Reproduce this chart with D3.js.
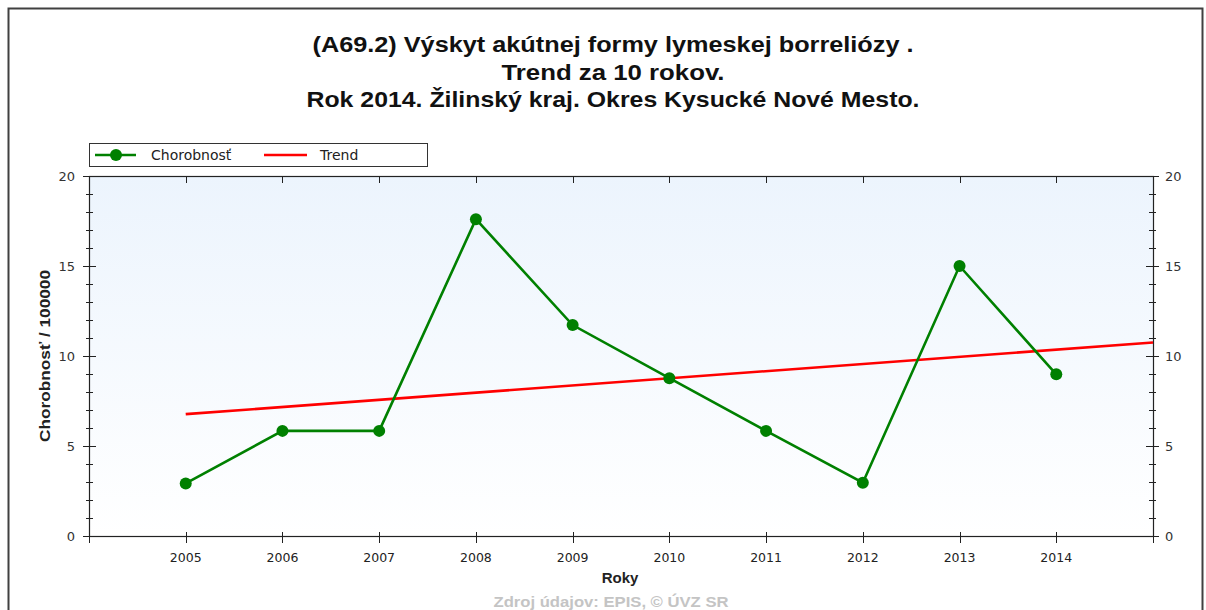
<!DOCTYPE html>
<html>
<head>
<meta charset="utf-8">
<script src="https://cdn.jsdelivr.net/npm/d3@7"></script>
<style>
  html, body { margin: 0; padding: 0; background: #fff; }
  svg { display: block; }
</style>
</head>
<body>
<svg id="chart" width="1206" height="610"></svg>
<script>
// Incidence of acute Lyme borreliosis per 100 000, district Kysucké Nové Mesto
const years = [2005, 2006, 2007, 2008, 2009, 2010, 2011, 2012, 2013, 2014];
const morbidity = [2.92, 5.84, 5.84, 17.6, 11.72, 8.77, 5.84, 2.96, 15.0, 8.98];
// Linear trend line, given by its two end points
const trendYears = [2005, 2015];
const trendValues = [6.77, 10.75];
const yTicks = [0, 5, 10, 15, 20];
const titleLines = [
  "(A69.2) Výskyt akútnej formy lymeskej borreliózy .",
  "Trend za 10 rokov.",
  "Rok 2014. Žilinský kraj. Okres Kysucké Nové Mesto."
];
const titleWidths = [601, 223, 613];

const svg = d3.select("#chart");
const plot = { left: 89, right: 1153, top: 176, bottom: 536 };

const x = d3.scaleLinear().domain([2004, 2015]).range([plot.left, plot.right]);
const y = d3.scaleLinear().domain([0, 20]).range([plot.bottom, plot.top]);

const defs = svg.append("defs");
const grad = defs.append("linearGradient")
  .attr("id", "plotBg").attr("x1", 0).attr("y1", 0).attr("x2", 0).attr("y2", 1);
grad.append("stop").attr("offset", "0%").attr("stop-color", "#ecf4fd");
grad.append("stop").attr("offset", "100%").attr("stop-color", "#ffffff");

// Outer frame
svg.append("rect")
  .attr("x", 8.5).attr("y", 8.5).attr("width", 1194).attr("height", 640)
  .attr("fill", "none").attr("stroke", "#404040").attr("stroke-width", 2);

// Title
svg.append("g").selectAll("text").data(titleLines).join("text")
  .attr("x", 613).attr("y", (d, i) => 52 + i * 27.5)
  .attr("text-anchor", "middle")
  .attr("font-family", "Liberation Sans, Arial, sans-serif")
  .attr("font-size", 22).attr("font-weight", "bold")
  .attr("textLength", (d, i) => titleWidths[i])
  .attr("lengthAdjust", "spacingAndGlyphs")
  .attr("fill", "#111")
  .text(d => d);

// Plot background
svg.append("rect")
  .attr("x", plot.left).attr("y", plot.top)
  .attr("width", plot.right - plot.left).attr("height", plot.bottom - plot.top)
  .attr("fill", "url(#plotBg)");

const axisColor = "#222";
const tickFont = "DejaVu Sans, Verdana, sans-serif";

// Left axis: major ticks cross the line, minor ticks every unit
const minorY = d3.range(0, 21, 1);
const leftG = svg.append("g").attr("transform", `translate(${plot.left},0)`);
leftG.selectAll("line.minor").data(minorY).join("line")
  .attr("x1", -3).attr("x2", 4).attr("y1", d => y(d) + 0.5).attr("y2", d => y(d) + 0.5)
  .attr("stroke", axisColor);
leftG.selectAll("line.major").data(yTicks).join("line")
  .attr("x1", -6).attr("x2", 7).attr("y1", d => y(d) + 0.5).attr("y2", d => y(d) + 0.5)
  .attr("stroke", axisColor);
leftG.selectAll("text").data(yTicks).join("text")
  .attr("x", -14).attr("y", d => y(d)).attr("dy", "0.35em")
  .attr("text-anchor", "end").attr("font-family", tickFont).attr("font-size", 13)
  .attr("fill", "#333").text(d => d);

// Right axis
const rightG = svg.append("g").attr("transform", `translate(${plot.right},0)`);
rightG.selectAll("line.minor").data(minorY).join("line")
  .attr("x1", -4).attr("x2", 3).attr("y1", d => y(d) + 0.5).attr("y2", d => y(d) + 0.5)
  .attr("stroke", axisColor);
rightG.selectAll("line.major").data(yTicks).join("line")
  .attr("x1", -7).attr("x2", 6).attr("y1", d => y(d) + 0.5).attr("y2", d => y(d) + 0.5)
  .attr("stroke", axisColor);
rightG.selectAll("text").data(yTicks).join("text")
  .attr("x", 12).attr("y", d => y(d)).attr("dy", "0.35em")
  .attr("text-anchor", "start").attr("font-family", tickFont).attr("font-size", 13)
  .attr("fill", "#333").text(d => d);

// Bottom axis ticks at each year and at both ends
const xTickYears = [2004].concat(years, [2015]);
const bottomG = svg.append("g");
bottomG.selectAll("line").data(xTickYears).join("line")
  .attr("x1", d => Math.round(x(d)) + 0.5).attr("x2", d => Math.round(x(d)) + 0.5)
  .attr("y1", plot.bottom - 4).attr("y2", plot.bottom + 7)
  .attr("stroke", axisColor);
bottomG.selectAll("text").data(years).join("text")
  .attr("x", d => x(d)).attr("y", 562)
  .attr("text-anchor", "middle").attr("font-family", tickFont).attr("font-size", 12.5)
  .attr("fill", "#222").text(d => d);

// Top edge ticks pointing into the plot
svg.append("g").selectAll("line").data(years).join("line")
  .attr("x1", d => Math.round(x(d)) + 0.5).attr("x2", d => Math.round(x(d)) + 0.5)
  .attr("y1", plot.top).attr("y2", plot.top + 7)
  .attr("stroke", axisColor);

// Plot border lines
svg.append("rect")
  .attr("x", plot.left + 0.5).attr("y", plot.top + 0.5)
  .attr("width", plot.right - plot.left).attr("height", plot.bottom - plot.top)
  .attr("fill", "none").attr("stroke", axisColor).attr("stroke-width", 1.2);

// Axis titles
svg.append("text")
  .attr("transform", `translate(50,${(plot.top + plot.bottom) / 2}) rotate(-90)`)
  .attr("text-anchor", "middle")
  .attr("font-family", "Liberation Sans, Arial, sans-serif")
  .attr("font-size", 15).attr("font-weight", "bold").attr("fill", "#222")
  .attr("textLength", 172).attr("lengthAdjust", "spacingAndGlyphs")
  .text("Chorobnosť / 100000");

svg.append("text")
  .attr("x", 620).attr("y", 583).attr("text-anchor", "middle")
  .attr("font-family", "Liberation Sans, Arial, sans-serif")
  .attr("font-size", 15).attr("font-weight", "bold").attr("fill", "#222")
  .text("Roky");

svg.append("text")
  .attr("x", 611).attr("y", 607).attr("text-anchor", "middle")
  .attr("font-family", "Liberation Sans, Arial, sans-serif")
  .attr("font-size", 15).attr("font-weight", "bold").attr("fill", "#c4c4c4")
  .attr("textLength", 235).attr("lengthAdjust", "spacingAndGlyphs")
  .text("Zdroj údajov: EPIS, © ÚVZ SR");

// Trend line
svg.append("path")
  .datum(trendYears.map((yr, i) => [yr, trendValues[i]]))
  .attr("d", d3.line().x(d => x(d[0])).y(d => y(d[1])))
  .attr("fill", "none").attr("stroke", "#ff0000").attr("stroke-width", 2.6);

// Morbidity series
const series = years.map((yr, i) => [yr, morbidity[i]]);
svg.append("path")
  .datum(series)
  .attr("d", d3.line().x(d => x(d[0])).y(d => y(d[1])))
  .attr("fill", "none").attr("stroke", "#008000").attr("stroke-width", 2.6);
svg.append("g").selectAll("circle").data(series).join("circle")
  .attr("cx", d => x(d[0])).attr("cy", d => y(d[1])).attr("r", 6)
  .attr("fill", "#008000");

// Legend
const lg = svg.append("g");
lg.append("rect").attr("x", 89.5).attr("y", 143.5).attr("width", 338).attr("height", 23)
  .attr("fill", "#fff").attr("stroke", "#333");
lg.append("line").attr("x1", 95).attr("x2", 136).attr("y1", 155).attr("y2", 155)
  .attr("stroke", "#008000").attr("stroke-width", 2.6);
lg.append("circle").attr("cx", 116).attr("cy", 155).attr("r", 6).attr("fill", "#008000");
lg.append("text").attr("x", 151).attr("y", 155).attr("dy", "0.35em")
  .attr("font-family", tickFont).attr("font-size", 14).attr("fill", "#222")
  .text("Chorobnosť");
lg.append("line").attr("x1", 264).attr("x2", 307).attr("y1", 155).attr("y2", 155)
  .attr("stroke", "#ff0000").attr("stroke-width", 2.6);
lg.append("text").attr("x", 320).attr("y", 155).attr("dy", "0.35em")
  .attr("font-family", tickFont).attr("font-size", 14).attr("fill", "#222")
  .text("Trend");
</script>
</body>
</html>
